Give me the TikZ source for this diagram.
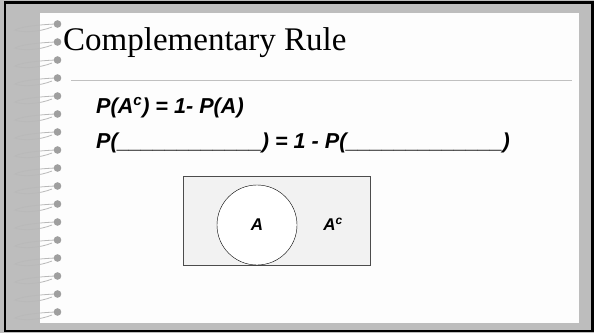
\documentclass[tikz,border=0pt]{standalone}
\usepackage{fontspec}
\setmainfont{Liberation Serif}
\newfontfamily\arialfont{Liberation Sans}
\usetikzlibrary{positioning}
\definecolor{framegray}{RGB}{189,189,189}
\definecolor{pagewhite}{RGB}{253,253,253}
\definecolor{rulegray}{RGB}{192,192,192}
\definecolor{boxfill}{RGB}{242,242,242}
\begin{document}
\begin{tikzpicture}[x=1pt, y=-1pt,
    ring/.style={draw=gray!55, line width=0.8pt},
    ringdot/.style={fill=gray!75},
    body/.style={font=\arialfont\bfseries\itshape\fontsize{21.6}{24}\selectfont, anchor=base west, inner sep=0pt},
    venn/.style={font=\arialfont\bfseries\itshape\fontsize{17}{19}\selectfont, inner sep=0pt}
]
\useasboundingbox (0,0) rectangle (594,333);

% Frame and page
\fill[framegray] (0,0) rectangle (594,333);
\draw[line width=2.5pt] (5,2.5) -- (592.5,2.5) -- (592.5,331) -- (5,331) -- cycle;
\fill[pagewhite] (40,13) rectangle (579,323);

% Spiral rings
\foreach \i in {0,...,16} {
    \pgfmathsetmacro{\ry}{24+18*\i}
    \draw[ring] (55,\ry) .. controls (35,\ry+1) and (20,\ry+3) .. (15,\ry+6)
        .. controls (22,\ry+9) and (40,\ry+8) .. (52,\ry+3);
    \fill[ringdot] (57.5,\ry) circle (3.8);
}

% Title
\node[font=\fontsize{33}{36}\selectfont, anchor=base west, inner sep=0pt] (title) at (63,50) {Complementary Rule};
\draw[rulegray, line width=0.8pt] (71,80) -- (572,80);

% Rule lines
\node[body] (line1) at (96,113) {P(A\textsuperscript{c}) = 1- P(A)};
\node[body] (line2) at (96,148) {P(\_\_\_\_\_\_\_\_\_\_\_\_) = 1 - P(\_\_\_\_\_\_\_\_\_\_\_\_\_)};

% Venn diagram
\node[draw=black!70, fill=boxfill, minimum width=187pt, minimum height=89pt, inner sep=0pt] (universe) at (276.5,220.5) {};
\node[draw, fill=white, circle, minimum size=80pt, inner sep=0pt] (setA) at (257,225) {};
\node[venn] (labelA) at (setA) {A};
\node[venn] (labelAc) at (333,224) {A\textsuperscript{c}};

\end{tikzpicture}
\end{document}
